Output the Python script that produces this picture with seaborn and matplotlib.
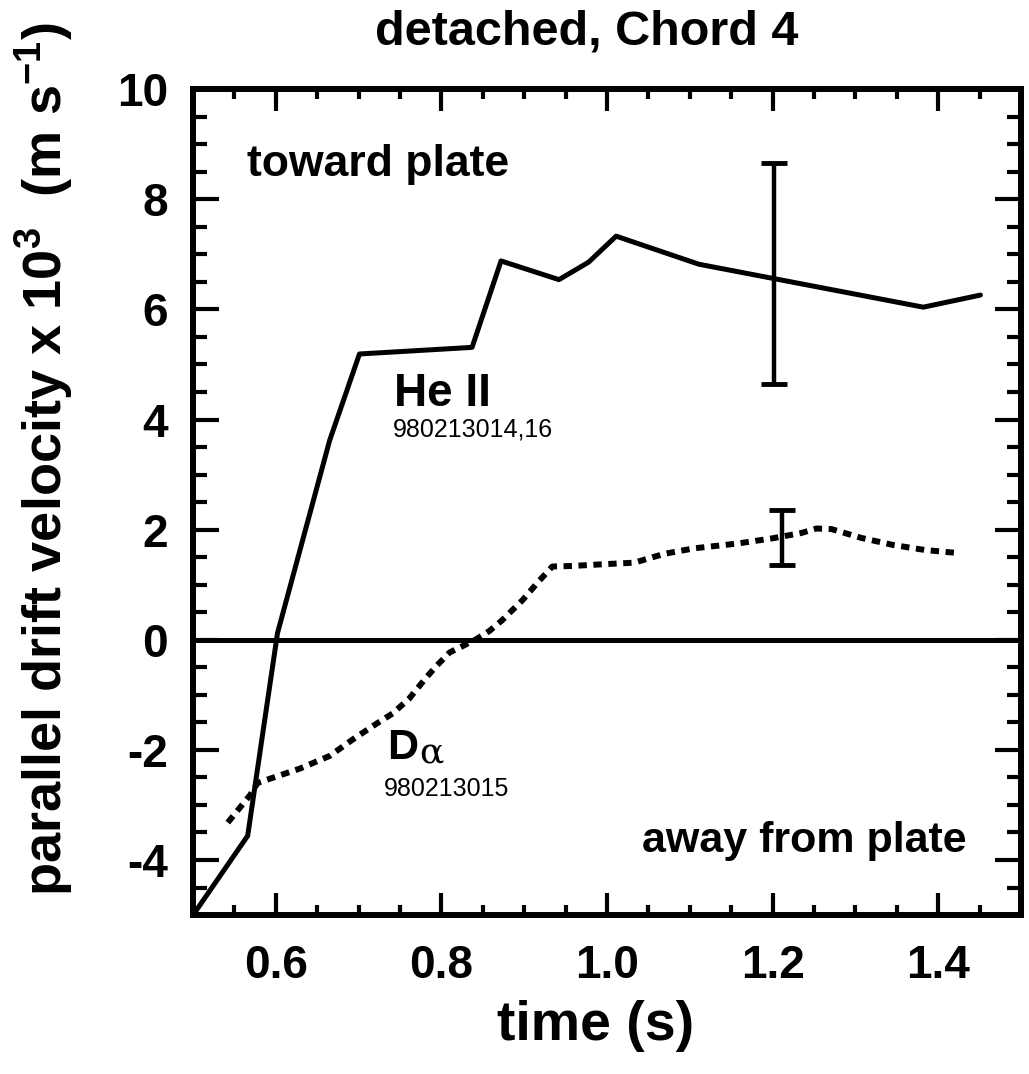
# detached_chord4.py
import numpy as np
import pandas as pd
import seaborn as sns
import matplotlib.pyplot as plt
from matplotlib.ticker import MultipleLocator

# 1. Data (time in s, velocity in 10^3 m/s)
he_time = [0.500, 0.566, 0.602, 0.665, 0.701, 0.837, 0.872, 0.942, 0.978,
           1.011, 1.111, 1.382, 1.451]
he_vel = [-5.00, -3.56, 0.12, 3.62, 5.19, 5.31, 6.88, 6.54, 6.86,
          7.33, 6.82, 6.04, 6.26]

da_time = [0.542, 0.569, 0.578, 0.629, 0.665, 0.693, 0.722, 0.741, 0.761,
           0.782, 0.795, 0.810, 0.825, 0.842, 0.858, 0.873, 0.898, 0.918,
           0.934, 0.958, 0.994, 1.033, 1.069, 1.105, 1.159, 1.199, 1.235,
           1.253, 1.271, 1.307, 1.346, 1.384, 1.420]
da_vel = [-3.32, -2.82, -2.60, -2.34, -2.11, -1.81, -1.52, -1.34, -1.07,
          -0.68, -0.46, -0.23, -0.12, 0.01, 0.16, 0.35, 0.72, 1.07,
          1.33, 1.34, 1.37, 1.40, 1.56, 1.66, 1.75, 1.84, 1.94,
          2.02, 2.01, 1.85, 1.72, 1.63, 1.58]

err_time = [1.202, 1.211]
err_vel = [6.65, 1.85]
err_size = [2.0, 0.5]

he_df = pd.DataFrame({"time": he_time, "vel": he_vel})
da_df = pd.DataFrame({"time": da_time, "vel": da_vel})

# 2. Style
sns.set_theme(style="ticks")
plt.rcParams["font.family"] = ["Liberation Sans", "DejaVu Sans"]
plt.rcParams["mathtext.fontset"] = "custom"
plt.rcParams["mathtext.rm"] = "Liberation Sans"
plt.rcParams["mathtext.bf"] = "Liberation Sans:bold"
plt.rcParams["mathtext.default"] = "bf"
plt.rcParams["axes.unicode_minus"] = False
for key in ["text.color", "axes.labelcolor", "xtick.color", "ytick.color",
            "xtick.labelcolor", "ytick.labelcolor", "axes.edgecolor"]:
    plt.rcParams[key] = "black"

fig = plt.figure(figsize=(10.29, 10.74), dpi=100)
ax = fig.add_axes([0.1876, 0.148, 0.8046, 0.769])

# 3. Lines
sns.lineplot(data=he_df, x="time", y="vel", color="black", linewidth=3.6,
             ax=ax, sort=False)
sns.lineplot(data=da_df, x="time", y="vel", color="black", linewidth=4.3,
             linestyle=(0, (1.4, 1.1)), ax=ax, sort=False)
ax.axhline(0, color="black", linewidth=3.6)

# 4. Error bars
ax.errorbar(err_time, err_vel, yerr=err_size, fmt="none", ecolor="black",
            elinewidth=3.2, capsize=9.5, capthick=3.5)

# 5. Axes limits and ticks
ax.set_xlim(0.5, 1.5)
ax.set_ylim(-5, 10)
ax.xaxis.set_major_locator(MultipleLocator(0.2))
ax.xaxis.set_minor_locator(MultipleLocator(0.05))
ax.yaxis.set_major_locator(MultipleLocator(2))
ax.yaxis.set_minor_locator(MultipleLocator(0.5))
ax.tick_params(axis="both", which="both", direction="in", top=True, right=True,
               color="black", width=3.0)
ax.tick_params(axis="x", which="major", length=16, pad=21, labelsize=33)
ax.tick_params(axis="x", which="minor", length=7.5)
ax.tick_params(axis="y", which="major", length=19, pad=18, labelsize=33)
ax.tick_params(axis="y", which="minor", length=10)
for lab in ax.get_xticklabels() + ax.get_yticklabels():
    lab.set_fontweight("bold")
for sp in ax.spines.values():
    sp.set_linewidth(4.3)
    sp.set_color("black")

# 6. Titles and labels
ax.set_title("detached, Chord 4", fontsize=35, fontweight="bold", pad=32, x=0.476)
ax.set_xlabel("time (s)", fontsize=40, fontweight="bold")
ax.xaxis.set_label_coords(0.486, -0.103)
ax.set_ylabel(r"parallel drift velocity x 10$^{3}$  (m s$^{-1}$)",
              fontsize=39, fontweight="bold")
ax.yaxis.set_label_coords(-0.143, 0.552)

# 7. Annotations
ax.text(0.565, 8.42, "toward plate", fontsize=32, fontweight="bold")
ax.text(1.434, -3.85, "away from plate", fontsize=31, fontweight="bold", ha="right")
ax.text(0.743, 4.25, "He II", fontsize=33, fontweight="bold")
ax.text(0.741, 3.70, "980213014,16", fontsize=18)
ax.text(0.734, -2.16, "D", fontsize=31, fontweight="bold")
ax.text(0.773, -2.24, "α", fontsize=26, family=["DejaVu Serif"])
ax.text(0.731, -2.84, "980213015", fontsize=18)

plt.savefig("out.png", dpi=100)
plt.close()
